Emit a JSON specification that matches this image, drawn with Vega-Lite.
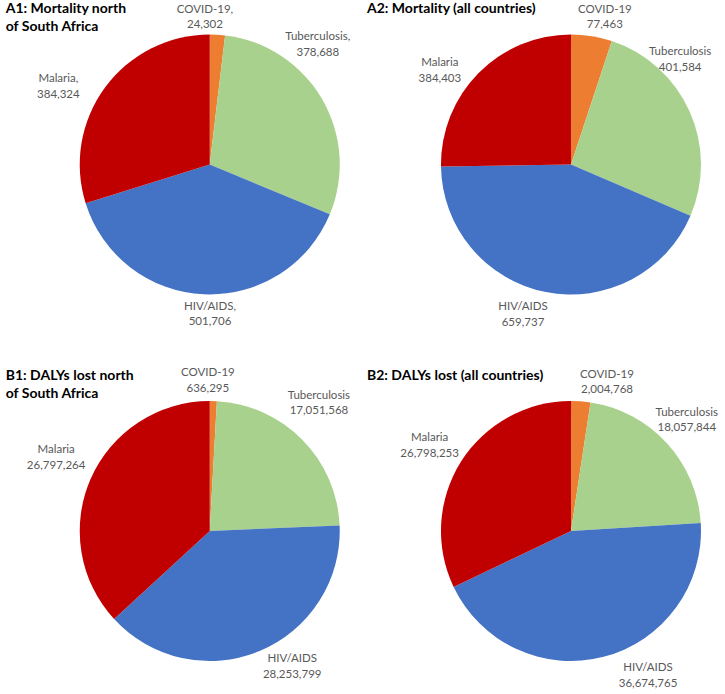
{
  "$schema": "https://vega.github.io/schema/vega-lite/v6.json",
  "width": 725,
  "height": 694,
  "autosize": {"type": "fit", "contains": "padding"},
  "padding": 0,
  "background": "white",
  "config": {
    "view": {"stroke": null},
    "text": {"font": "Lato", "fontSize": 11.5, "color": "#595959", "lineBreak": "\n", "lineHeight": 15.5, "align": "center", "baseline": "middle", "dy": -7.75}
  },
  "datasets": {
    "pies": [
      {"panel": "A1", "measure": "Mortality", "region": "North of South Africa", "cause": "COVID-19", "value": 24302},
      {"panel": "A1", "measure": "Mortality", "region": "North of South Africa", "cause": "Tuberculosis", "value": 378688},
      {"panel": "A1", "measure": "Mortality", "region": "North of South Africa", "cause": "HIV/AIDS", "value": 501706},
      {"panel": "A1", "measure": "Mortality", "region": "North of South Africa", "cause": "Malaria", "value": 384324},
      {"panel": "A2", "measure": "Mortality", "region": "All countries", "cause": "COVID-19", "value": 77463},
      {"panel": "A2", "measure": "Mortality", "region": "All countries", "cause": "Tuberculosis", "value": 401584},
      {"panel": "A2", "measure": "Mortality", "region": "All countries", "cause": "HIV/AIDS", "value": 659737},
      {"panel": "A2", "measure": "Mortality", "region": "All countries", "cause": "Malaria", "value": 384403},
      {"panel": "B1", "measure": "DALYs lost", "region": "North of South Africa", "cause": "COVID-19", "value": 636295},
      {"panel": "B1", "measure": "DALYs lost", "region": "North of South Africa", "cause": "Tuberculosis", "value": 17051568},
      {"panel": "B1", "measure": "DALYs lost", "region": "North of South Africa", "cause": "HIV/AIDS", "value": 28253799},
      {"panel": "B1", "measure": "DALYs lost", "region": "North of South Africa", "cause": "Malaria", "value": 26797264},
      {"panel": "B2", "measure": "DALYs lost", "region": "All countries", "cause": "COVID-19", "value": 2004768},
      {"panel": "B2", "measure": "DALYs lost", "region": "All countries", "cause": "Tuberculosis", "value": 18057844},
      {"panel": "B2", "measure": "DALYs lost", "region": "All countries", "cause": "HIV/AIDS", "value": 36674765},
      {"panel": "B2", "measure": "DALYs lost", "region": "All countries", "cause": "Malaria", "value": 26798253}
    ],
    "titles": [
      {"measure": "Mortality", "region": "North of South Africa", "title": "A1: Mortality north\nof South Africa"},
      {"measure": "Mortality", "region": "All countries", "title": "A2: Mortality (all countries)"},
      {"measure": "DALYs lost", "region": "North of South Africa", "title": "B1: DALYs lost north\nof South Africa"},
      {"measure": "DALYs lost", "region": "All countries", "title": "B2: DALYs lost (all countries)"}
    ]
  },
  "encoding": {
    "x": {"field": "region", "type": "nominal", "scale": {"type": "point", "domain": ["North of South Africa", "All countries"], "padding": 0.50346, "align": 0.5766}, "axis": null},
    "y": {"field": "measure", "type": "nominal", "scale": {"type": "point", "domain": ["Mortality", "DALYs lost"], "padding": 0.44679, "align": 0.50229}, "axis": null}
  },
  "layer": [
    {
      "data": {"name": "pies"},
      "transform": [
        {"calculate": "indexof(['COVID-19','Tuberculosis','HIV/AIDS','Malaria'], datum.cause)", "as": "ord"},
        {"stack": "value", "groupby": ["panel"], "sort": [{"field": "ord", "order": "ascending"}], "offset": "normalize", "as": ["s0", "s1"]}
      ],
      "mark": {"type": "arc", "outerRadius": 130},
      "encoding": {
        "theta": {"field": "s0", "type": "quantitative", "stack": null, "scale": {"domain": [0, 1]}},
        "theta2": {"field": "s1"},
        "color": {"field": "cause", "type": "nominal", "scale": {"domain": ["COVID-19", "Tuberculosis", "HIV/AIDS", "Malaria"], "range": ["#ED7D31", "#A9D18E", "#4472C4", "#C00000"]}, "legend": null}
      }
    },
    {
      "data": {"name": "titles"},
      "mark": {"type": "text", "align": "left", "baseline": "top", "dx": -204, "dy": -162, "font": "Lato", "fontSize": 14, "fontWeight": "bold", "color": "#000000", "lineHeight": 18},
      "encoding": {"text": {"field": "title"}}
    },
    {
      "data": {"name": "pies"},
      "transform": [
        {"calculate": "indexof(['COVID-19','Tuberculosis','HIV/AIDS','Malaria'], datum.cause)", "as": "ord"},
        {"stack": "value", "groupby": ["panel"], "sort": [{"field": "ord", "order": "ascending"}], "offset": "normalize", "as": ["s0", "s1"]},
        {"calculate": "(datum.s0 + datum.s1) / 2", "as": "mid"},
        {"calculate": "datum.cause + (datum.panel === 'A1' ? ',' : '') + '\\n' + format(datum.value, ',')", "as": "label"}
      ],
      "encoding": {
        "theta": {"field": "mid", "type": "quantitative", "stack": null, "scale": {"domain": [0, 1]}},
        "text": {"field": "label"}
      },
      "layer": [
        {"transform": [{"filter": "datum.panel === 'A1' && datum.cause === 'COVID-19'"}], "mark": {"type": "text", "radius": 147, "thetaOffset": -0.0916}},
        {"transform": [{"filter": "datum.panel === 'A1' && datum.cause === 'Tuberculosis'"}], "mark": {"type": "text", "radius": 161, "thetaOffset": -0.3054}},
        {"transform": [{"filter": "datum.panel === 'A1' && datum.cause === 'HIV/AIDS'"}], "mark": {"type": "text", "radius": 150, "thetaOffset": -0.0471}},
        {"transform": [{"filter": "datum.panel === 'A1' && datum.cause === 'Malaria'"}], "mark": {"type": "text", "radius": 170, "thetaOffset": -0.1614}},
        {"transform": [{"filter": "datum.panel === 'A2' && datum.cause === 'COVID-19'"}], "mark": {"type": "text", "radius": 151, "thetaOffset": 0.0663}},
        {"transform": [{"filter": "datum.panel === 'A2' && datum.cause === 'Tuberculosis'"}], "mark": {"type": "text", "radius": 151, "thetaOffset": -0.3395}},
        {"transform": [{"filter": "datum.panel === 'A2' && datum.cause === 'HIV/AIDS'"}], "mark": {"type": "text", "radius": 158, "thetaOffset": 0.1134}},
        {"transform": [{"filter": "datum.panel === 'A2' && datum.cause === 'Malaria'"}], "mark": {"type": "text", "radius": 161, "thetaOffset": -0.1588}},
        {"transform": [{"filter": "datum.panel === 'B1' && datum.cause === 'COVID-19'"}], "mark": {"type": "text", "radius": 150, "thetaOffset": -0.0401}},
        {"transform": [{"filter": "datum.panel === 'B1' && datum.cause === 'Tuberculosis'"}], "mark": {"type": "text", "radius": 168, "thetaOffset": -0.0838}},
        {"transform": [{"filter": "datum.panel === 'B1' && datum.cause === 'HIV/AIDS'"}], "mark": {"type": "text", "radius": 159, "thetaOffset": -0.1518}},
        {"transform": [{"filter": "datum.panel === 'B1' && datum.cause === 'Malaria'"}], "mark": {"type": "text", "radius": 170, "thetaOffset": 0.0297}},
        {"transform": [{"filter": "datum.panel === 'B2' && datum.cause === 'COVID-19'"}], "mark": {"type": "text", "radius": 153, "thetaOffset": 0.1623}},
        {"transform": [{"filter": "datum.panel === 'B2' && datum.cause === 'Tuberculosis'"}], "mark": {"type": "text", "radius": 160, "thetaOffset": -0.0209}},
        {"transform": [{"filter": "datum.panel === 'B2' && datum.cause === 'HIV/AIDS'"}], "mark": {"type": "text", "radius": 164, "thetaOffset": -0.2356}},
        {"transform": [{"filter": "datum.panel === 'B2' && datum.cause === 'Malaria'"}], "mark": {"type": "text", "radius": 165, "thetaOffset": -0.0209}}
      ]
    }
  ]
}
